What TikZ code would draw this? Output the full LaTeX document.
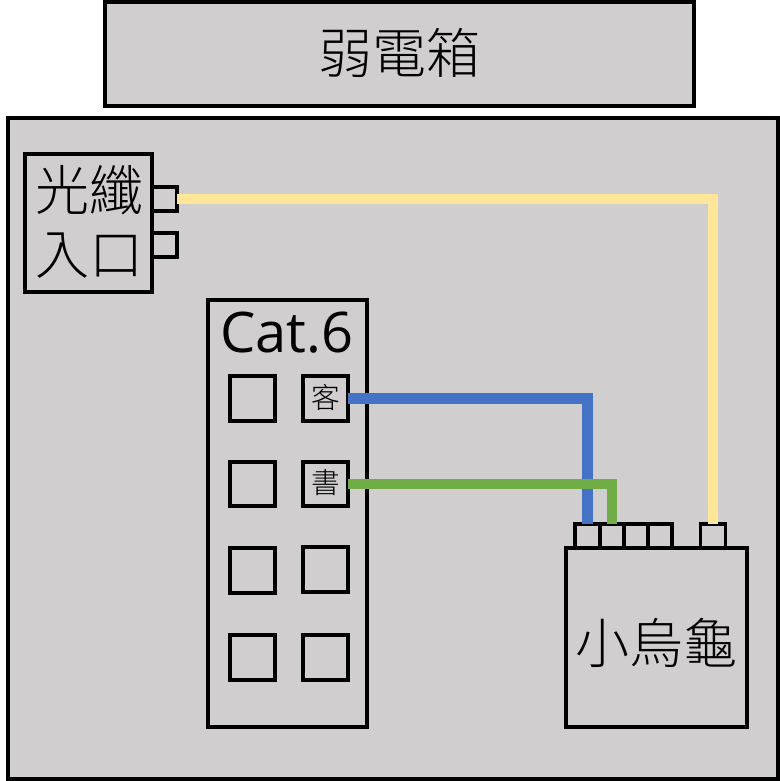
\documentclass[tikz,border=0pt]{standalone}
\usepackage{fontspec}
\setmainfont{Open Sans}
\newfontfamily\cjk{Noto Sans CJK TC Light}
\definecolor{boxgray}{HTML}{D0CECE}
\definecolor{fiberyellow}{HTML}{FFE699}
\definecolor{cableblue}{HTML}{4472C4}
\definecolor{cablegreen}{HTML}{70AD47}
\tikzset{
  x=0.75pt,y=-0.75pt,
  box/.style={draw=black,line width=2.3pt,fill=boxgray,inner sep=0pt,outer sep=0pt,anchor=north west,font=\cjk},
  wire/.style={line width=7.8pt,line cap=butt,line join=miter},
  bigtext/.style={font=\cjk\fontsize{40.5}{40.5}\selectfont,inner sep=0pt},
  smalltext/.style={font=\cjk\fontsize{21.5}{21.5}\selectfont}
}
\newcommand{\boxat}[6][]{\node[box,minimum width=#4*0.75pt,minimum height=#5*0.75pt,#1] (#6) at (#2,#3) {};}
\begin{document}
\begin{tikzpicture}
\useasboundingbox (0,0) rectangle (780,781);
\boxat{105}{2}{589}{104}{weak}
\node[bigtext] (weaklabel) at (399.5,53) {弱電箱};
\boxat{8}{118}{770}{661}{room}
% fibre entry
\boxat{152}{187}{25}{24}{fp1}
\boxat{152}{233}{25}{24}{fp2}
\boxat{25}{154}{127}{138}{fiber}
\node[bigtext] (fl1) at (89,190) {光纖};
\node[bigtext] (fl2) at (89,256) {入口};
% Cat.6 panel
\boxat{208}{300}{159}{427}{cat}
\node[font=\fontsize{42}{42}\selectfont,inner sep=0pt] (catlabel) at (287,333) {Cat.6};
\boxat{230}{376}{45}{45}{a1}
\boxat{303}{376}{45}{45}{ke}
\boxat{230}{462}{45}{44}{a2}
\boxat{303}{462}{45}{44}{shu}
\boxat{230}{548}{45}{45}{a3}
\boxat{303}{547}{45}{45}{b3}
\boxat{230}{635}{45}{45}{a4}
\boxat{303}{635}{45}{45}{b4}
\node[smalltext] (kelabel) at (325.5,397) {客};
\node[smalltext] (shulabel) at (325.5,483) {書};
% router
\boxat{575}{524}{25}{24}{t1}
\boxat{600}{524}{24}{24}{t2}
\boxat{624}{524}{24}{24}{t3}
\boxat{648}{524}{24}{24}{t4}
\boxat{700.5}{524}{25}{24}{t5}
\boxat{566}{548}{181}{179}{router}
\node[bigtext] (routerlabel) at (656.5,643) {小烏龜};
% cables
\draw[wire,fiberyellow] (fp1.east) -| (t5.north);
\draw[wire,cableblue] (ke.east) -| (t1.north);
\draw[wire,cablegreen] (shu.east) -| (t2.north);
\end{tikzpicture}
\end{document}
